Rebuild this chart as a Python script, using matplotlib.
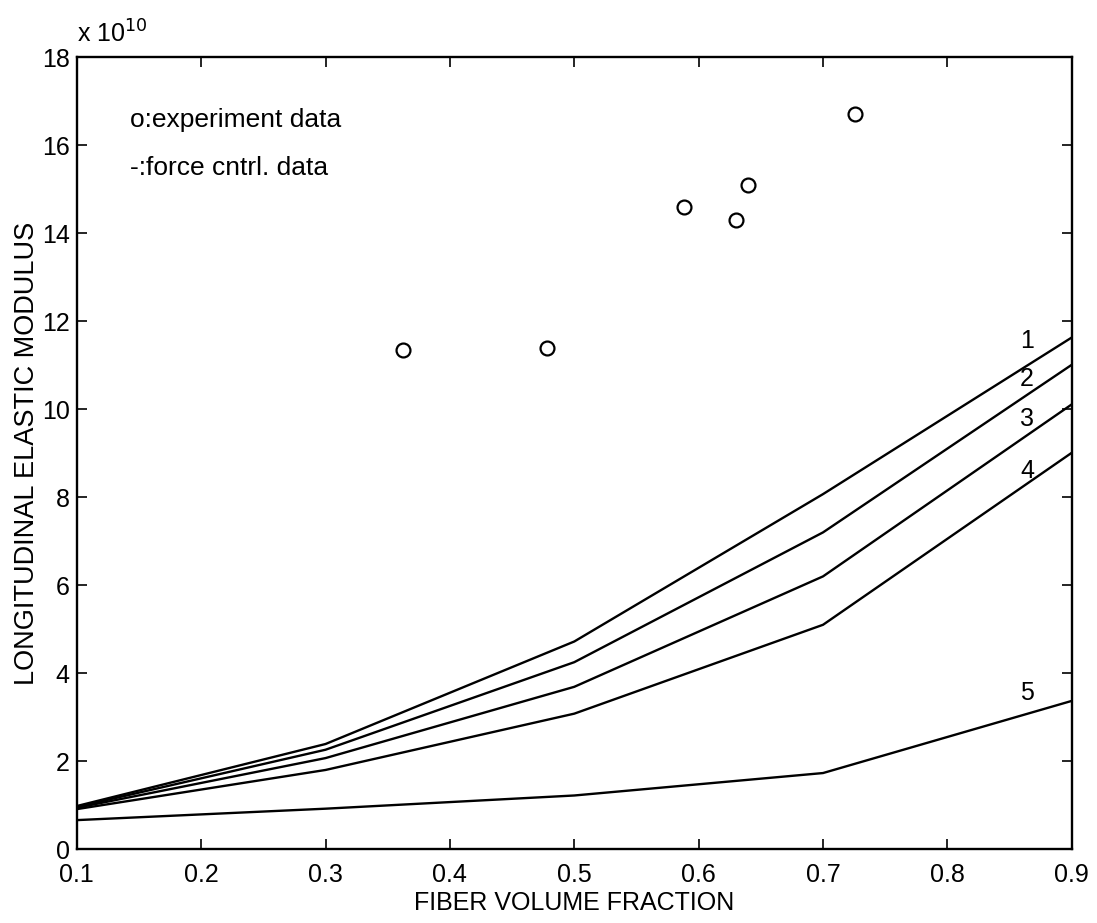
import matplotlib
matplotlib.use("Agg")
import matplotlib.pyplot as plt

plt.rcParams['font.family'] = ['Liberation Sans', 'DejaVu Sans']

# Fiber volume fraction for model curves
vf = [0.1, 0.3, 0.5, 0.7, 0.9]
# Longitudinal elastic modulus (x 1e10) for force-control curves 1..5
curve1 = [0.98, 2.39, 4.72, 8.07, 11.63]
curve2 = [0.96, 2.26, 4.25, 7.20, 11.01]
curve3 = [0.94, 2.07, 3.69, 6.20, 10.11]
curve4 = [0.91, 1.80, 3.08, 5.10, 9.01]
curve5 = [0.66, 0.92, 1.22, 1.73, 3.37]
curve_labels = ["1", "2", "3", "4", "5"]
label_y = [11.56, 10.68, 9.77, 8.59, 3.55]

# Experimental data
exp_vf = [0.362, 0.478, 0.588, 0.630, 0.640, 0.726]
exp_E = [11.35, 11.40, 14.60, 14.30, 15.10, 16.70]

fig = plt.figure(figsize=(10.97, 9.23), dpi=100)
ax = fig.add_axes([0.070, 0.080, 0.907, 0.858])

for c in [curve1, curve2, curve3, curve4, curve5]:
    ax.plot(vf, c, color='black', linewidth=1.7)

ax.plot(exp_vf, exp_E, linestyle='none', marker='o', markersize=10,
        markerfacecolor='white', markeredgecolor='black', markeredgewidth=1.6)

for lab, ly in zip(curve_labels, label_y):
    ax.text(0.864, ly, lab, fontsize=18, ha='center', va='center')

ax.text(0.143, 16.57, "o:experiment data", fontsize=19, ha='left', va='center')
ax.text(0.143, 15.48, "-:force cntrl. data", fontsize=19, ha='left', va='center')

ax.set_xlim(0.1, 0.9)
ax.set_ylim(0, 18)
ax.set_xticks([0.1, 0.2, 0.3, 0.4, 0.5, 0.6, 0.7, 0.8, 0.9])
ax.set_xticklabels(["0.1", "0.2", "0.3", "0.4", "0.5", "0.6", "0.7", "0.8", "0.9"])
ax.set_yticks(range(0, 19, 2))
ax.tick_params(direction='in', top=True, right=True, length=7, width=1.2,
               labelsize=18)
ax.tick_params(axis='x', pad=10)
ax.tick_params(axis='y', pad=5)
for s in ax.spines.values():
    s.set_linewidth(1.7)

ax.set_xlabel("FIBER VOLUME FRACTION", fontsize=18)
ax.xaxis.set_label_coords(0.5, -0.068)
ax.xaxis.label.set_va('center')
ax.set_ylabel("LONGITUDINAL ELASTIC MODULUS", fontsize=19.5)
ax.yaxis.set_label_coords(-0.050, 0.5)
ax.yaxis.label.set_va('center')
ax.text(0.0, 1.012, r"x 10$^{10}$", transform=ax.transAxes, fontsize=18,
        ha='left', va='bottom')

fig.savefig("out.png", dpi=100, facecolor='white')
